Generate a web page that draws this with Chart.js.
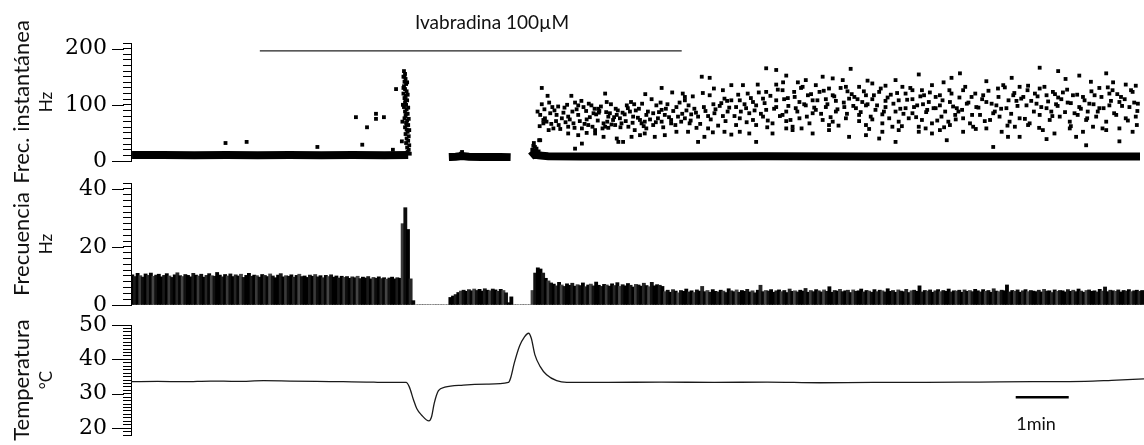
<!DOCTYPE html>
<html lang="es">
<head>
<meta charset="UTF-8">
<title>Ivabradina 100µM</title>
<script src="https://cdn.jsdelivr.net/npm/chart.js"></script>
<style>
  body { margin: 0; background: #fff; }
  #wrap { position: relative; width: 1144px; height: 445px; overflow: hidden; }
  .panel { position: absolute; left: 0; width: 1144px; }
  .note { position: absolute; font-family: Lato, sans-serif; color: #111; line-height: 1; white-space: nowrap; transform: translateX(-50%); }
</style>
</head>
<body>
<div id="wrap">
  <div class="panel" style="top:0;height:185px"><canvas id="instChart"></canvas></div>
  <div class="panel" style="top:170px;height:145px"><canvas id="freqChart"></canvas></div>
  <div class="panel" style="top:315px;height:130px"><canvas id="tempChart"></canvas></div>
  <div class="note" style="left:492px;top:12px;font-size:19px">Ivabradina 100µM</div>
  <div class="note" style="left:1036px;top:414px;font-size:18px">1min</div>
</div>

<script>
// time axis in minutes
const tMax = 19.11;

// --- Frec. instantánea (Hz) ---
// dense baseline bands [min, Hz]
const bandEarly = [[0.02,10.5],[0.6,10.8],[1.2,10.2],[1.8,10.6],[2.4,10.3],[3.0,10.8],[3.6,10.2],[4.2,10.5],[4.8,10.4],[5.25,10.8]];
const bandMid = [[6.02,7],[6.15,7.5],[6.27,9],[6.4,7.5],[6.7,7],[7.0,7.3],[7.19,6.8]];
const bandLate = [[7.57,8],[7.62,12],[7.72,10],[7.9,8.5],[8.5,8],[10,8],[12,8.3],[14,7.8],[16,8],[18,8.2],[19.11,8]];

// isolated spikes before the burst and around the gaps
const sporadic = [[1.79,32],[2.19,34],[3.53,25],[4.26,78],[4.38,29],[4.47,60],[4.64,84],[4.64,75],[4.79,78],[4.96,20],[5.02,128],
  [6.27,16],[6.25,13],[7.60,20],[7.62,27],[7.63,32],[7.65,25],[7.66,18],[7.68,22],[7.70,15],[7.72,17],[7.75,13],[7.64,14],[7.80,12],[7.73,37]];

// burst during the cold pulse
const burst = [[5.17,160],[5.19,155],[5.16,150],[5.20,146],[5.18,141],[5.21,137],[5.17,133],[5.19,128],[5.22,124],[5.16,120],
  [5.20,116],[5.18,112],[5.23,108],[5.19,104],[5.21,100],[5.17,96],[5.22,92],[5.19,88],[5.24,84],[5.20,80],
  [5.18,76],[5.23,72],[5.21,68],[5.25,64],[5.19,60],[5.22,56],[5.24,52],[5.20,48],[5.26,44],[5.22,40],
  [5.25,36],[5.21,32],[5.27,28],[5.23,24],[5.26,20],[5.24,16],[5.28,13],[5.14,70],[5.13,35],[5.15,100],
  [5.24,118],[5.23,140],[5.25,95],[5.27,55],[5.26,75],[5.16,130],[5.18,150],[5.21,84],[5.20,110],[5.22,65]];

// scattered cloud after the heat pulse
const cloud = [
  [7.78,130],[7.89,116],[8.34,116],[8.98,120],[9.74,119],[10.05,130],[10.25,122],[10.45,120],[10.49,114],[10.81,150],[10.96,148],[10.83,121],[11.04,129],[11.21,126],[10.96,117],[11.37,135],[11.24,111],
  [7.78,101],[7.98,96],[8.21,95],[8.41,104],[8.47,99],[8.57,96],[8.67,102],[8.78,93],[8.87,89],[9.01,105],[9.18,93],[9.39,99],[9.47,105],[9.53,101],[9.62,93],[9.95,99],[10.03,104],[10.16,101],[10.33,96],[10.49,108],[10.56,99],[10.67,93],[10.85,96],[11.03,101],[11.15,98],[11.29,107],[11.37,108],[8.72,99],[8.85,93],
  [7.75,82],[7.84,76],[7.94,85],[8.06,82],[8.16,76],[8.28,79],[8.47,82],[8.63,74],[8.76,85],[8.86,86],[9.04,79],[9.13,73],[9.26,76],[9.35,83],[9.51,79],[9.64,73],[9.76,82],[9.89,85],[9.98,76],[10.11,82],[10.23,73],[10.36,79],[10.49,76],[10.61,83],[10.74,79],[10.93,80],[11.05,85],[11.21,80],[11.30,88],[7.81,73],[9.07,85],[9.45,88],[10.05,91],[9.20,82],
  [7.81,67],[7.91,55],[8.00,58],[8.10,64],[8.28,61],[8.38,67],[8.54,58],[8.66,64],[8.79,55],[8.95,67],[9.04,59],[9.17,64],[9.29,67],[9.42,61],[9.54,55],[9.67,67],[9.76,58],[9.89,64],[10.05,70],[10.23,67],[10.33,52],[10.42,70],[10.58,67],[10.71,59],[10.93,58],[11.02,51],[11.24,52],[11.37,47],[8.98,61],[9.10,65],[9.73,70],
  [8.28,49],[8.47,46],[8.63,50],[8.79,49],[8.95,43],[9.20,40],[9.32,34],[9.48,43],[9.64,46],[9.73,49],[9.92,43],[10.11,46],[10.55,52],[10.74,34],[10.86,43],[8.54,31],[8.41,22],[7.75,37],[9.23,34],
  [7.70,88],[7.74,62],[7.83,92],[7.87,70],[7.92,104],[7.96,66],[8.02,90],[8.05,71],[8.09,97],[8.13,57],[8.19,86],[8.23,69],[8.26,100],[8.31,74],[8.36,88],[8.40,59],[8.44,92],[8.50,71],[8.53,107],[8.59,66],
  [8.62,89],[8.69,78],[8.74,61],[8.81,83],[8.84,72],[8.90,97],[8.93,58],[9.00,87],[9.02,70],[9.09,101],[9.15,78],[9.22,90],[9.27,60],[9.31,86],[9.37,71],[9.41,94],[9.50,68],[9.56,90],[9.60,77],[9.68,102],
  [9.71,62],[9.79,88],[9.83,74],[9.86,110],[9.94,69],[10.00,87],[10.08,60],[10.13,93],[10.19,78],[10.27,89],[10.31,64],[10.39,104],[10.44,84],[10.52,90],[10.60,72],[10.64,115],[10.70,86],[10.78,66],[10.88,89],[10.98,74],
  [11.07,92],[11.12,63],[11.18,103],[11.26,71],[11.33,95],
  [12.03,165],[12.41,152],[13.63,164],[14.92,154],[12.22,162],[12.78,144],[13.10,150],[13.29,147],[13.48,144],[14.48,144],
  [11.59,135],[11.87,136],[12.22,136],[12.63,140],[12.72,132],[12.97,135],[13.22,129],[13.54,132],[13.79,132],[14.04,138],[14.29,134],[14.61,132],[14.80,126],[14.98,126],[15.17,135],
  [11.68,120],[12.03,123],[12.34,126],[12.56,123],[12.82,117],[13.04,123],[13.29,117],[13.57,124],[13.70,114],[13.92,117],[14.17,123],[14.39,118],[14.67,120],[15.02,117],
  [11.53,108],[11.78,105],[11.97,111],[12.22,108],[12.44,112],[12.66,105],[12.91,108],[13.16,110],[13.35,107],[13.60,111],[13.85,105],[14.04,110],[14.29,107],[14.54,108],[14.80,110],[15.11,105],[15.24,114],
  [11.46,96],[11.65,94],[11.84,99],[12.03,91],[12.22,96],[12.41,88],[12.59,94],[12.78,99],[12.97,91],[13.16,96],[13.35,88],[13.51,96],[13.73,94],[13.92,99],[14.10,91],[14.29,96],[14.48,88],[14.67,94],[14.89,99],[15.08,91],[15.24,94],
  [11.71,85],[12.34,82],[12.91,85],[13.79,82],[14.23,83],[14.80,85],
  [11.53,76],[11.78,73],[11.97,79],[12.15,67],[12.41,71],[12.66,76],[12.85,67],[13.10,73],[13.29,70],[13.54,76],[13.79,71],[14.04,74],[14.23,67],[14.54,70],[14.73,76],[14.98,73],[15.17,67],
  [11.46,64],[11.84,64],[12.53,61],[13.22,64],[13.92,64],[14.42,61],[14.92,61],
  [11.53,52],[11.71,49],[12.15,49],[12.53,55],[12.91,49],[13.22,55],[13.60,43],[13.92,46],[14.23,52],[14.54,55],[14.92,52],[15.17,49],[11.84,34],[12.41,58],[14.17,40],[14.48,34],
  [11.43,80],[11.50,118],[11.55,88],[11.62,101],[11.66,69],[11.74,112],[11.81,90],[11.89,122],[11.93,84],[12.00,103],[12.06,72],[12.11,116],[12.18,93],[12.25,127],[12.29,80],[12.37,110],[12.45,98],[12.49,73],[12.57,114],[12.62,88],
  [12.69,130],[12.75,101],[12.80,79],[12.88,119],[12.94,95],[13.00,108],[13.07,84],[13.12,125],[13.19,101],[13.25,78],[13.32,115],[13.38,92],[13.44,130],[13.50,104],[13.56,84],[13.65,119],[13.68,98],[13.76,110],[13.82,87],[13.88,124],
  [13.95,101],[14.01,79],[14.07,117],[14.13,99],[14.20,129],[14.26,88],[14.33,113],[14.36,76],[14.44,102],[14.51,121],[14.57,93],[14.63,84],[14.70,109],[14.76,130],[14.83,96],[14.87,78],[14.95,115],[15.00,101],[15.06,87],[15.13,122],
  [15.20,94],[15.27,72],[12.05,60],[12.70,58],[13.40,63],[13.98,57],[14.60,62],[15.05,58],[12.35,140],[13.95,143],
  [17.21,166],[17.56,160],[17.96,152],[18.47,156],[15.70,156],[15.54,148],[15.39,140],[16.68,148],[18.18,141],[18.84,136],
  [16.52,135],[16.83,132],[16.99,134],[17.21,129],[17.46,123],[17.65,122],[18.34,130],[18.59,126],[19.03,134],
  [15.32,117],[15.54,120],[15.76,126],[15.92,114],[16.14,117],[16.42,129],[16.71,117],[16.90,114],[17.12,120],[17.34,117],[17.56,113],[17.84,117],[18.03,114],[18.25,117],[18.53,120],[18.75,114],[18.97,123],
  [15.32,99],[15.51,105],[15.64,94],[15.83,102],[16.01,96],[16.20,105],[16.39,99],[16.58,94],[16.77,107],[16.96,99],[17.15,102],[17.34,94],[17.52,101],[17.74,104],[17.96,96],[18.15,102],[18.34,94],[18.53,99],[18.72,105],[18.91,96],[19.07,102],
  [15.35,79],[15.48,70],[15.61,82],[15.76,76],[15.89,67],[16.08,82],[16.27,73],[16.45,79],[16.64,70],[16.83,76],[17.02,67],[17.21,82],[17.40,73],[17.59,79],[17.78,70],[17.93,82],[18.09,73],[18.28,79],[18.47,70],[18.66,82],[18.84,76],[19.03,79],
  [15.67,88],[16.33,85],[17.43,88],[18.12,88],
  [15.32,55],[15.51,64],[15.76,52],[15.95,61],[16.20,58],[16.49,52],[16.74,61],[16.99,64],[17.27,55],[17.49,49],[17.78,58],[18.03,52],[18.22,61],[18.47,55],[18.72,58],[18.97,52],
  [15.45,37],[16.61,43],[16.83,43],[17.34,39],[17.90,43],[16.33,25],[18.09,28],[18.72,35],
  [15.37,108],[15.42,88],[15.50,126],[15.57,97],[15.62,74],[15.69,113],[15.74,91],[15.80,132],[15.86,104],[15.93,82],[15.99,120],[16.05,95],[16.12,110],[16.17,71],[16.24,125],[16.30,102],[16.36,88],[16.43,114],[16.48,93],[16.55,131],
  [16.62,108],[16.67,84],[16.73,121],[16.79,98],[16.86,111],[16.93,75],[16.98,126],[17.05,107],[17.10,88],[17.17,115],[17.24,96],[17.30,132],[17.37,106],[17.45,80],[17.50,119],[17.55,98],[17.62,110],[17.69,87],[17.73,127],[17.80,103],
  [17.87,85],[17.92,118],[17.99,93],[18.06,108],[18.11,76],[18.19,124],[18.23,101],[18.31,88],[18.38,114],[18.42,94],[18.50,131],[18.56,107],[18.62,85],[18.68,119],[18.77,98],[18.82,110],[18.88,72],[18.94,126],[19.00,104],[19.06,89],
  [15.40,60],[16.00,57],[16.60,63],[17.20,59],[17.80,62],[18.40,58],[19.05,64],[16.20,142],[17.70,146],[18.60,140]
];

// drug application bar
const drugBar = [[2.44,196],[10.43,196]];

// --- Frecuencia (Hz), bins of 0.05 min ---
const binStart = 0.025, binWidth = 0.05;
const freqHz = [
  10.4,9.8,10.9,10.1,9.6,10.7,10.2,11.0,9.9,10.3, 10.6,9.7,10.2,10.8,10.0,9.5,10.4,11.1,10.1,9.8,
  10.5,10.2,9.7,10.9,10.3,10.0,10.6,9.6,10.2,10.8, 10.1,9.9,11.2,10.3,9.7,10.5,10.0,10.7,9.8,10.4,
  10.0,10.6,9.5,10.2,10.9,9.9,10.3,10.1,9.6,10.5, 10.2,9.8,10.7,10.0,9.4,10.3,10.8,9.7,10.1,9.9,
  10.4,9.6,10.2,10.6,9.8,10.0,9.5,10.3,9.9,10.5, 9.7,10.1,9.4,10.2,9.8,10.4,9.6,10.0,9.3,9.9,
  9.5,9.8,9.2,9.7,9.4,9.9,9.1,9.6,9.3,9.8, 9.0,9.5,9.2,9.7,9.1,9.4,8.9,9.3,9.6,9.0, 9.4,9.2,
  28,33.5,26,9,1.5,
  0,0,0,0,0,0,0,0,0,0,0,0,0,
  2.6,3.1,3.6,4.3,4.8,5.1,4.7,5.3,4.9,5.5,5.0,5.4,4.8,5.6,5.1,4.9,5.5,5.2,4.7,5.4,5.0,4.2,0.8,2.8,
  0,0,0,0,0,0,0,
  5,11,12.8,12.4,11,9.2,8.3,7.6,
  7.2,6.6,7.8,6.9,6.4,7.3,6.8,7.5,6.5,7.0, 6.7,7.6,6.3,6.9,7.2,6.6,7.9,6.8,6.4,7.1,
  6.9,6.5,7.3,6.7,7.7,6.4,7.0,6.6,7.4,6.8, 6.2,7.1,6.9,6.5,7.5,6.7,6.3,7.8,6.6,7.0, 6.8,6.4,
  4.6,5.1,4.4,5.3,4.8,4.2,5.0,4.7,5.5,4.5, 4.9,4.3,5.2,4.8,6.4,4.6,5.0,4.4,5.3,4.7,
  4.5,5.1,4.8,4.3,5.6,4.9,4.6,5.2,4.4,5.0, 4.7,5.4,4.5,4.9,4.2,5.1,6.8,4.6,5.0,4.8,
  5.3,4.4,4.9,5.2,4.6,5.0,4.3,5.5,4.7,4.9, 4.5,5.1,4.8,5.7,4.4,5.0,4.6,5.3,4.9,4.5,
  5.2,4.7,6.3,4.4,5.0,4.8,5.4,4.6,4.9,5.1, 4.3,5.2,4.7,4.9,5.5,4.5,5.0,4.8,4.4,5.3,
  4.6,5.1,4.9,4.5,5.6,4.7,5.0,4.4,5.2,4.8, 4.6,5.4,4.3,4.9,5.1,4.7,6.6,4.5,5.0,4.8,
  5.2,4.4,4.9,5.3,4.6,5.0,4.7,5.5,4.5,4.9, 4.8,5.1,4.4,5.2,4.7,5.0,4.6,5.4,4.9,4.5,
  5.3,4.7,5.0,4.4,5.6,4.8,4.6,5.1,4.9,6.9, 4.5,5.0,4.7,5.2,4.4,4.9,5.3,4.6,5.0,4.8,
  4.6,5.1,4.5,5.4,4.8,4.9,4.3,5.2,4.7,5.0, 4.9,4.5,5.3,4.7,5.1,4.6,5.5,4.8,4.4,5.0,
  5.2,4.7,4.9,4.5,5.4,4.8,6.2,4.6,5.1,4.9, 4.7,5.2,4.5,5.0,4.8,5.3,4.6,4.9,5.1,4.7, 5.0
];
const barShades = ['#000','#1a1a1a','#000','#3a3a3a','#0d0d0d','#000','#262626','#050505','#444','#111','#000'];

// --- Temperatura (ºC) ---
const tempT = [0,0.5,1,1.5,2,2.5,3,3.5,4,4.5,4.7,5.19,5.25,5.33,5.39,5.48,5.62,5.67,5.72,5.80,5.92,6.27,6.71,7.12,
  7.16,7.23,7.33,7.42,7.50,7.55,7.62,7.72,7.84,8.03,8.22,9,10,11,12,13,14,15,16,17,18,18.5,19.11];
const tempC = [33.5,33.6,33.5,33.7,33.6,33.8,33.7,33.6,33.5,33.4,33.3,33.3,32.0,28.2,25.7,23.8,22.1,23.3,27.2,30.9,31.9,32.5,32.8,33.3,
  34.5,38.9,43.9,46.5,47.6,46.2,41.3,37.9,35.5,33.8,33.3,33.3,33.4,33.3,33.4,33.2,33.3,33.3,33.4,33.5,33.6,33.9,34.3];
const scaleBar = [[16.69,29],[17.69,29]];

// long major ticks and the unit next to the axis title
const axisExtras = {
  id: 'axisExtras',
  afterDraw(chart, args, opts) {
    const s = chart.scales.y, ctx = chart.ctx;
    ctx.save();
    ctx.strokeStyle = '#000';
    ctx.lineWidth = 1;
    s.ticks.forEach(t => {
      if (t.value % opts.major === 0) {
        const y = Math.round(s.getPixelForValue(t.value)) + 0.5;
        ctx.beginPath();
        ctx.moveTo(s.right - 19, y);
        ctx.lineTo(s.right - 7, y);
        ctx.stroke();
      }
    });
    const mid = (chart.chartArea.top + chart.chartArea.bottom) / 2;
    ctx.translate(46.5, mid);
    ctx.rotate(-Math.PI / 2);
    ctx.font = '17px Lato';
    ctx.fillStyle = '#111';
    ctx.textAlign = 'center';
    ctx.textBaseline = 'middle';
    ctx.fillText(opts.unit, 0, 0);
    ctx.restore();
  }
};

function panelOptions(cfg) {
  return {
    responsive: true,
    maintainAspectRatio: false,
    animation: false,
    events: [],
    layout: { padding: { top: cfg.padTop, bottom: cfg.padBottom, left: 0, right: 0 } },
    plugins: {
      legend: { display: false },
      tooltip: { enabled: false },
      axisExtras: { major: cfg.major, unit: cfg.unit }
    },
    scales: {
      x: { type: 'linear', display: false, min: 0, max: tMax, offset: false },
      y: {
        min: cfg.min,
        max: cfg.max,
        // fixed axis box; labels may overhang the plot area
        afterFit: s => { s.width = 131; s.paddingTop = 0; s.paddingBottom = 0; },
        border: { display: true, color: '#000', width: 1 },
        grid: { drawOnChartArea: false, color: '#000', tickLength: 8 },
        ticks: {
          stepSize: cfg.step,
          autoSkip: false,
          padding: 16,
          color: '#000',
          font: { family: 'DejaVu Serif', size: 22 },
          callback: v => (v % cfg.major === 0 ? v : '')
        },
        title: {
          display: true,
          text: cfg.title,
          color: '#111',
          font: { family: 'Lato', size: 22 },
          padding: { top: 9, bottom: 0 }
        }
      }
    }
  };
}

const toXY = arr => arr.map(p => ({ x: p[0], y: p[1] }));

function band(points) {
  return { data: toXY(points), showLine: true, borderColor: '#000', borderWidth: 8, pointRadius: 0 };
}
function dots(points) {
  return { data: toXY(points), pointStyle: 'rect', pointRadius: 2.7, borderWidth: 0, backgroundColor: '#000' };
}

new Chart(document.getElementById('instChart'), {
  type: 'scatter',
  data: {
    datasets: [
      band(bandEarly), band(bandMid), band(bandLate),
      dots(sporadic), dots(burst), dots(cloud),
      { data: toXY(drugBar), showLine: true, borderColor: '#222', borderWidth: 1.4, pointRadius: 0 }
    ]
  },
  options: panelOptions({ min: 0, max: 210, step: 10, major: 100, title: 'Frec. instantánea', unit: 'Hz', padTop: 43, padBottom: 24 }),
  plugins: [axisExtras]
});

new Chart(document.getElementById('freqChart'), {
  type: 'bar',
  data: {
    datasets: [{
      data: freqHz.map((v, i) => ({ x: binStart + i * binWidth, y: v })),
      backgroundColor: c => barShades[c.dataIndex % barShades.length],
      borderWidth: 0,
      barThickness: 3.2
    }]
  },
  options: panelOptions({ min: 0, max: 42, step: 2, major: 20, title: 'Frecuencia', unit: 'Hz', padTop: 13, padBottom: 10 }),
  plugins: [axisExtras]
});

new Chart(document.getElementById('tempChart'), {
  type: 'scatter',
  data: {
    datasets: [
      {
        data: tempT.map((t, i) => ({ x: t, y: tempC[i] })),
        showLine: true, borderColor: '#1a1a1a', borderWidth: 1.3, pointRadius: 0,
        cubicInterpolationMode: 'monotone'
      },
      { data: toXY(scaleBar), showLine: true, borderColor: '#000', borderWidth: 2.5, pointRadius: 0 }
    ]
  },
  options: panelOptions({ min: 18, max: 50, step: 1, major: 10, title: 'Temperatura', unit: '°C', padTop: 10, padBottom: 10 }),
  plugins: [axisExtras]
});
</script>
</body>
</html>
